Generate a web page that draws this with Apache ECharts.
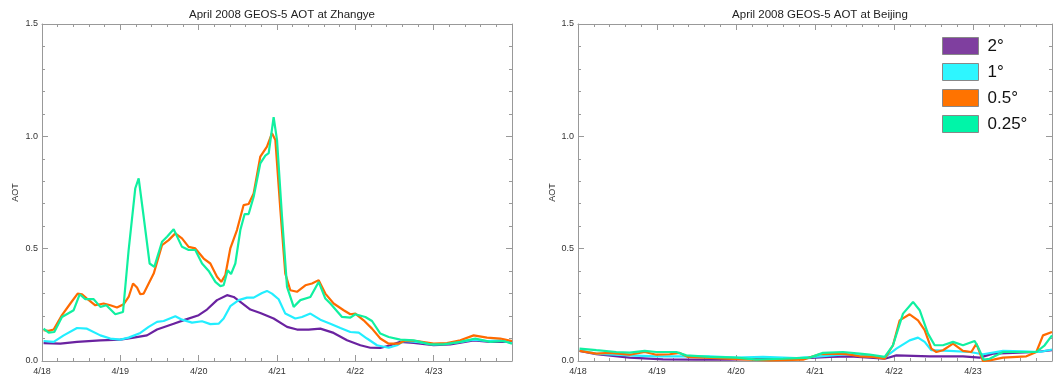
<!DOCTYPE html>
<html><head><meta charset="utf-8">
<script src="https://cdn.jsdelivr.net/npm/echarts@6/dist/echarts.min.js"></script>
<style>html,body{margin:0;padding:0;background:#fff}#c{width:1056px;height:380px}</style>
</head><body><div id="c"></div>
<script>
// ---- data (x = days since 4/18 00:00, y = AOT) ----
const xTickLabels = ['4/18','4/19','4/20','4/21','4/22','4/23'];
const seriesNames = ['2°','1°','0.5°','0.25°'];
const titles = ['April 2008 GEOS-5 AOT at Zhangye','April 2008 GEOS-5 AOT at Beijing'];

const zhangye_2deg = [[0.02,0.08],[0.234,0.077],[0.447,0.085],[0.745,0.092],[1.0,0.095],[1.17,0.104],[1.34,0.114],[1.468,0.14],[1.681,0.166],[1.83,0.184],[2.0,0.204],[2.106,0.229],[2.234,0.271],[2.362,0.293],[2.447,0.285],[2.532,0.263],[2.66,0.229],[2.787,0.214],[2.957,0.189],[3.128,0.152],[3.255,0.14],[3.404,0.14],[3.553,0.144],[3.723,0.125],[3.894,0.092],[4.064,0.07],[4.191,0.059],[4.319,0.058],[4.447,0.07],[4.574,0.085],[4.745,0.08],[5.0,0.07],[5.213,0.074],[5.511,0.092],[5.723,0.085],[6.0,0.085]];
const zhangye_1deg = [[0.02,0.089],[0.149,0.085],[0.277,0.114],[0.447,0.147],[0.574,0.144],[0.745,0.114],[0.872,0.10],[1.0,0.095],[1.106,0.104],[1.255,0.125],[1.362,0.152],[1.468,0.174],[1.553,0.178],[1.702,0.199],[1.787,0.184],[1.915,0.171],[2.043,0.177],[2.149,0.164],[2.255,0.166],[2.319,0.189],[2.404,0.244],[2.511,0.271],[2.617,0.282],[2.702,0.282],[2.809,0.303],[2.872,0.312],[2.936,0.30],[3.021,0.275],[3.106,0.211],[3.234,0.189],[3.319,0.196],[3.426,0.211],[3.553,0.184],[3.681,0.166],[3.809,0.147],[3.936,0.129],[4.043,0.126],[4.149,0.10],[4.277,0.07],[4.426,0.059],[4.532,0.07],[4.617,0.089],[4.787,0.085],[5.0,0.074],[5.17,0.077],[5.34,0.085],[5.511,0.095],[5.681,0.089],[5.851,0.092],[6.0,0.08]];
const zhangye_05deg = [[0.02,0.137],[0.085,0.134],[0.149,0.14],[0.255,0.204],[0.362,0.256],[0.455,0.30],[0.511,0.297],[0.574,0.278],[0.681,0.248],[0.787,0.256],[0.872,0.248],[0.957,0.238],[1.043,0.253],[1.106,0.285],[1.162,0.345],[1.213,0.327],[1.255,0.297],[1.298,0.30],[1.362,0.345],[1.426,0.389],[1.489,0.464],[1.532,0.516],[1.617,0.538],[1.702,0.568],[1.787,0.546],[1.872,0.508],[1.957,0.501],[2.064,0.456],[2.149,0.434],[2.234,0.375],[2.289,0.352],[2.34,0.382],[2.404,0.501],[2.489,0.583],[2.574,0.694],[2.638,0.699],[2.702,0.746],[2.787,0.91],[2.872,0.954],[2.936,1.014],[2.979,0.984],[3.043,0.672],[3.106,0.389],[3.17,0.315],[3.255,0.308],[3.362,0.337],[3.447,0.345],[3.532,0.36],[3.617,0.30],[3.723,0.256],[3.851,0.226],[3.936,0.208],[4.0,0.211],[4.106,0.181],[4.213,0.144],[4.319,0.10],[4.426,0.077],[4.553,0.077],[4.638,0.092],[4.787,0.089],[5.0,0.077],[5.17,0.08],[5.34,0.092],[5.511,0.114],[5.681,0.104],[5.851,0.10],[6.0,0.089]];
const zhangye_025deg = [[0.02,0.144],[0.085,0.126],[0.157,0.129],[0.255,0.196],[0.404,0.226],[0.481,0.297],[0.553,0.275],[0.66,0.275],[0.745,0.241],[0.821,0.248],[0.936,0.208],[1.034,0.218],[1.106,0.494],[1.191,0.769],[1.234,0.813],[1.298,0.642],[1.374,0.434],[1.434,0.419],[1.532,0.531],[1.596,0.553],[1.681,0.586],[1.787,0.508],[1.872,0.494],[1.957,0.494],[2.043,0.434],[2.128,0.401],[2.213,0.352],[2.277,0.333],[2.319,0.337],[2.37,0.404],[2.413,0.387],[2.468,0.434],[2.532,0.583],[2.587,0.654],[2.638,0.654],[2.702,0.731],[2.787,0.88],[2.851,0.914],[2.894,0.925],[2.957,1.085],[3.0,0.984],[3.064,0.642],[3.128,0.33],[3.213,0.241],[3.298,0.271],[3.426,0.285],[3.532,0.352],[3.617,0.278],[3.681,0.256],[3.83,0.196],[3.936,0.193],[4.0,0.208],[4.128,0.196],[4.213,0.178],[4.319,0.122],[4.426,0.107],[4.574,0.095],[4.745,0.092],[4.957,0.074],[5.128,0.074],[5.34,0.085],[5.532,0.10],[5.723,0.085],[5.894,0.089],[6.0,0.077]];

const beijing_2deg = [[0.02,0.045],[0.232,0.03],[0.654,0.015],[1.076,0.007],[1.498,0.006],[1.92,0.006],[2.342,0.01],[2.764,0.01],[3.186,0.018],[3.439,0.021],[3.692,0.015],[3.882,0.01],[4.03,0.025],[4.451,0.021],[4.873,0.021],[5.084,0.015],[5.253,0.033],[5.506,0.036],[5.802,0.04],[6.0,0.048]];
const beijing_1deg = [[0.02,0.048],[0.232,0.033],[0.654,0.025],[0.992,0.021],[1.329,0.021],[1.667,0.021],[2.004,0.015],[2.342,0.018],[2.764,0.013],[3.059,0.021],[3.397,0.03],[3.692,0.021],[3.882,0.015],[4.03,0.055],[4.198,0.092],[4.304,0.104],[4.388,0.085],[4.473,0.048],[4.705,0.045],[4.958,0.04],[5.127,0.03],[5.38,0.045],[5.633,0.043],[5.844,0.04],[6.0,0.051]];
const beijing_05deg = [[0.02,0.045],[0.232,0.033],[0.401,0.036],[0.654,0.028],[0.844,0.04],[0.992,0.028],[1.16,0.03],[1.287,0.036],[1.392,0.018],[1.751,0.013],[2.089,0.007],[2.426,0.003],[2.848,0.006],[3.059,0.03],[3.354,0.033],[3.565,0.021],[3.734,0.018],[3.882,0.01],[3.987,0.07],[4.072,0.181],[4.198,0.208],[4.304,0.181],[4.388,0.137],[4.473,0.055],[4.536,0.04],[4.62,0.048],[4.747,0.077],[4.873,0.045],[4.979,0.04],[5.042,0.077],[5.127,0.0],[5.211,0.003],[5.38,0.015],[5.675,0.021],[5.802,0.04],[5.886,0.114],[6.0,0.129]];
const beijing_025deg = [[0.02,0.055],[0.232,0.048],[0.485,0.04],[0.654,0.037],[0.844,0.045],[0.992,0.04],[1.245,0.04],[1.371,0.025],[1.667,0.018],[2.004,0.015],[2.257,0.006],[2.595,0.01],[2.932,0.015],[3.101,0.036],[3.354,0.04],[3.565,0.033],[3.692,0.028],[3.882,0.018],[3.987,0.07],[4.114,0.211],[4.241,0.263],[4.325,0.226],[4.43,0.122],[4.515,0.07],[4.62,0.07],[4.747,0.085],[4.873,0.07],[5.021,0.089],[5.063,0.062],[5.135,0.006],[5.211,0.01],[5.38,0.04],[5.59,0.04],[5.802,0.04],[5.907,0.07],[6.0,0.114]];

const panels = [
  [zhangye_2deg, zhangye_1deg, zhangye_05deg, zhangye_025deg],
  [beijing_2deg, beijing_1deg, beijing_05deg, beijing_025deg]
];
const lineColors = ['#6a22a0','#22eeff','#ff6a00','#10f0a0'];
const legendColors = ['#7f3f9f','#2ef6ff','#ff7300','#00f5a8'];

// ---- chart ----
const font = 'Liberation Sans, Arial, Helvetica, sans-serif';
const axisGray = '#999';
const grids = [
  {left: 42, top: 24, width: 470, height: 337},
  {left: 578, top: 24, width: 474, height: 337}
];
const xAxes = [], yAxes = [], series = [], titleOpts = [];
grids.forEach((g, i) => {
  const baseX = {
    type: 'value', gridIndex: i, min: 0, max: 6, interval: 1,
    axisLine: {show: true, onZero: false, lineStyle: {color: axisGray, width: 1}},
    axisTick: {show: true, inside: true, length: 6, lineStyle: {color: axisGray}},
    minorTick: {show: true, splitNumber: 5, length: 3, lineStyle: {color: axisGray}},
    splitLine: {show: false}
  };
  xAxes.push(Object.assign({}, baseX, {
    position: 'bottom',
    axisLabel: {show: true, margin: 6, fontSize: 9, color: '#333', fontFamily: font,
      formatter: v => xTickLabels[v] || ''}
  }));
  xAxes.push(Object.assign({}, baseX, {position: 'top', axisLabel: {show: false}}));
  const baseY = {
    type: 'value', gridIndex: i, min: 0, max: 1.5, interval: 0.5,
    axisLine: {show: true, onZero: false, lineStyle: {color: axisGray, width: 1}},
    axisTick: {show: true, inside: true, length: 6, lineStyle: {color: axisGray}},
    minorTick: {show: true, splitNumber: 5, length: 3, lineStyle: {color: axisGray}},
    splitLine: {show: false}
  };
  yAxes.push(Object.assign({}, baseY, {
    position: 'left',
    name: 'AOT', nameLocation: 'middle', nameGap: i === 0 ? 22 : 21,
    nameTextStyle: {fontSize: 9, color: '#333', fontFamily: font},
    axisLabel: {show: true, margin: 4, fontSize: 9, color: '#333', fontFamily: font,
      formatter: v => v.toFixed(1)}
  }));
  yAxes.push(Object.assign({}, baseY, {position: 'right', axisLabel: {show: false}}));
  panels[i].forEach((data, k) => {
    series.push({
      type: 'line', name: seriesNames[k], xAxisIndex: i * 2, yAxisIndex: i * 2,
      data: data, showSymbol: false, symbol: 'none', smooth: false,
      lineStyle: {color: lineColors[k], width: 2.2},
      itemStyle: {color: legendColors[k]},
      emphasis: {disabled: true}, silent: true, animation: false
    });
  });
  titleOpts.push({
    text: titles[i], left: g.left + g.width / 2, top: 4, textAlign: 'center',
    textStyle: {fontSize: 11.5, fontWeight: 'normal', color: '#222', fontFamily: font}
  });
});

const chart = echarts.init(document.getElementById('c'), null, {renderer: 'canvas'});
chart.setOption({
  backgroundColor: '#fff',
  animation: false,
  title: titleOpts,
  grid: grids,
  xAxis: xAxes,
  yAxis: yAxes,
  legend: {
    data: seriesNames.map((n, k) => ({name: n, itemStyle: {color: legendColors[k], borderColor: '#888', borderWidth: 1}})),
    orient: 'vertical', left: 937, top: 32,
    icon: 'rect', itemWidth: 36, itemHeight: 17, itemGap: 8,
    selectedMode: false,
    textStyle: {fontSize: 17, color: '#111', fontFamily: font, padding: [0, 0, 0, 4]}
  },
  series: series
});
</script></body></html>
